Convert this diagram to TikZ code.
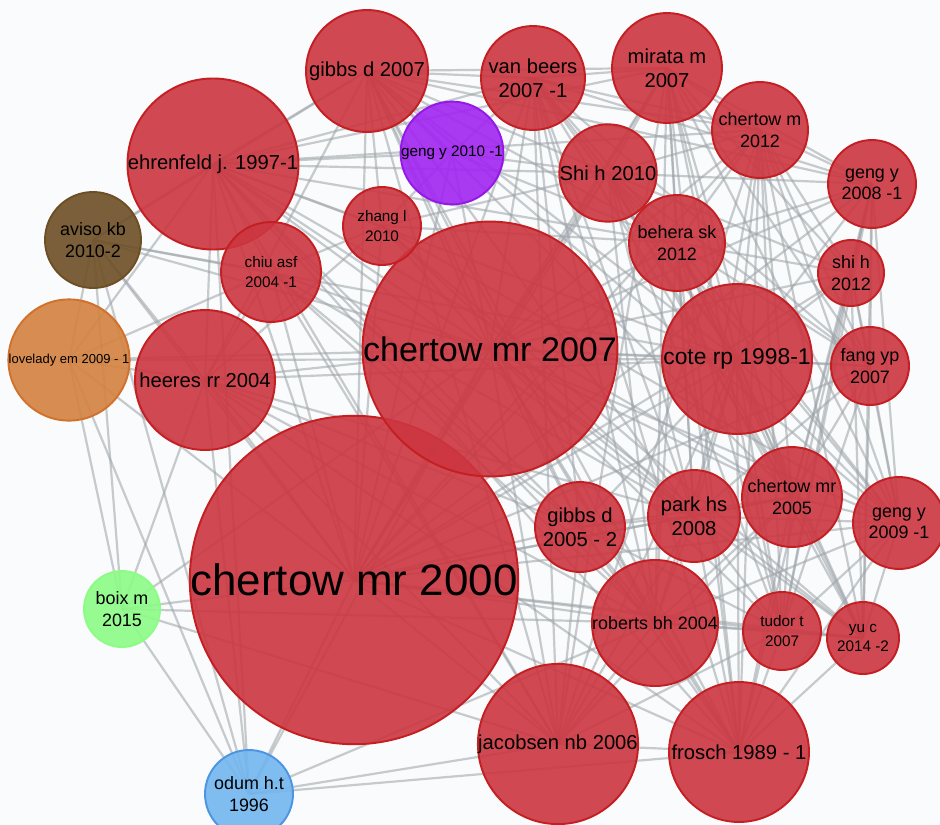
\documentclass[tikz,border=0pt]{standalone}
\usepackage{fontspec}
\setmainfont{Liberation Sans}
\usepackage{xcolor}
\usepackage{tikz}

\definecolor{paperred}{HTML}{CC3640}
\definecolor{edgered}{HTML}{C41F22}
\definecolor{linkgray}{HTML}{9CA2A8}
\definecolor{bgwhite}{HTML}{F9FBFC}
\definecolor{purplefill}{HTML}{A224F2}
\definecolor{purpleedge}{HTML}{9418E6}
\definecolor{brownfill}{HTML}{6E4F25}
\definecolor{orangefill}{HTML}{D4823F}
\definecolor{orangeedge}{HTML}{D0722C}
\definecolor{greenfill}{HTML}{8CFC86}
\definecolor{bluefill}{HTML}{72B6EF}
\definecolor{blueedge}{HTML}{4E94E4}

\pgfdeclarelayer{links}
\pgfsetlayers{links,main}

\tikzset{
    paper/.style={circle, draw=edgered, fill=paperred, fill opacity=0.9, text opacity=1,
        line width=1.1pt, inner sep=0pt, align=center, minimum size=#1*0.04cm},
    link/.style={draw=linkgray, line width=1.25pt, opacity=0.55},
    fhuge/.style={font=\fontsize{25}{30}\selectfont},
    flarge/.style={font=\fontsize{19.4}{23}\selectfont},
    fbig/.style={font=\fontsize{13}{16}\selectfont},
    fmed/.style={font=\fontsize{11.5}{13.8}\selectfont},
    fnorm/.style={font=\fontsize{10.2}{12.2}\selectfont},
    fsmall/.style={font=\fontsize{8.7}{11}\selectfont},
    ftiny/.style={font=\fontsize{7.4}{9}\selectfont},
}

\begin{document}
\begin{tikzpicture}[x=0.02cm, y=-0.02cm]
    \useasboundingbox (0,0) rectangle (940,825);

    % Papers (main cluster)
    \node[paper=164, fhuge] (c00) at (354,580) {chertow mr 2000};
    \node[paper=126, flarge] (c07) at (490,349) {chertow mr 2007};
    \node[paper=75, fbig] (co) at (737,359) {cote rp 1998-1};
    \node[paper=82, fmed] (eh) at (213,164) {ehrenfeld j. 1997-1};
    \node[paper=61, fmed] (g07) at (367,71) {gibbs d 2007};
    \node[paper=52, fmed] (vb) at (533,78) {van beers\\2007 -1};
    \node[paper=55, fmed] (mi) at (667,68) {mirata m\\2007};
    \node[paper=48, fnorm] (cm12) at (760,130) {chertow m\\2012};
    \node[paper=47, fmed] (sh10) at (608,173) {Shi h 2010};
    \node[paper=44, fnorm] (gy08) at (872,184) {geng y\\2008 -1};
    \node[paper=39, fsmall] (zl) at (382,226) {zhang l\\2010};
    \node[paper=50, fsmall] (ch04) at (271,272) {chiu asf\\2004 -1};
    \node[paper=48, fnorm] (be) at (677,243) {behera sk\\2012};
    \node[paper=33, fnorm] (sh12) at (851,273) {shi h\\2012};
    \node[paper=39, fnorm] (fa) at (870,366) {fang yp\\2007};
    \node[paper=70, fmed] (he) at (205,380) {heeres rr 2004};
    \node[paper=45, fmed] (gd05) at (580,527) {gibbs d\\2005 - 2};
    \node[paper=46, fmed] (pk) at (694,516) {park hs\\2008};
    \node[paper=50, fnorm] (c05) at (792,497) {chertow mr\\2005};
    \node[paper=46, fnorm] (gy09) at (899,523) {geng y\\2009 -1};
    \node[paper=63, fnorm] (rb) at (655,623) {roberts bh 2004};
    \node[paper=39, fsmall] (tu) at (782,631) {tudor t\\2007};
    \node[paper=36, fsmall] (yu) at (863,638) {yu c\\2014 -2};
    \node[paper=80, fmed] (ja) at (558,744) {jacobsen nb 2006};
    \node[paper=70, fmed] (fr) at (739,752) {frosch 1989 - 1};

    % Papers (other clusters)
    \node[paper=50, fill=purplefill, draw=purpleedge, fsmall] (gy10) at (452,153) {geng y 2010 -1};
    \node[paper=48, fill=brownfill, draw=brownfill, fnorm] (av) at (93,240) {aviso kb\\2010-2};
    \node[paper=58, fill=orangefill, draw=orangeedge, ftiny] (lo) at (69,360) {lovelady em 2009 - 1};
    \node[paper=38, fill=greenfill, draw=greenfill, fnorm] (bo) at (122,609) {boix m\\2015};
    \node[paper=44, fill=bluefill, draw=blueedge, fnorm] (od) at (249,794) {odum h.t\\1996};

    % Co-citation links
    \begin{pgfonlayer}{links}
        \fill[bgwhite] (0,0) rectangle (940,825);
        \foreach \a/\blist in {
            c00/{c07,co,eh,g07,vb,mi,cm12,sh10,gy08,zl,ch04,be,sh12,fa,he,gd05,pk,c05,gy09,rb,tu,yu,ja,fr,gy10,av,lo,bo,od},
            c07/{co,eh,g07,vb,mi,cm12,sh10,gy08,zl,ch04,be,sh12,fa,he,gd05,pk,c05,gy09,rb,tu,yu,ja,fr,gy10,av,lo,bo,od},
            co/{eh,g07,vb,mi,cm12,sh10,gy08,be,sh12,fa,he,gd05,pk,c05,gy09,rb,tu,yu,ja,fr,av,lo},
            eh/{g07,vb,mi,cm12,sh10,zl,ch04,be,he,gd05,pk,c05,rb,ja,fr,av,lo,od,gy10},
            g07/{vb,mi,cm12,sh10,gy08,gy10,zl,be,he,gd05,pk,c05,gy09,rb,ja,fr,av},
            vb/{mi,cm12,sh10,gy10,gy08,be,gd05,pk,c05,rb,ja,fr,fa},
            mi/{cm12,sh10,gy08,be,sh12,fa,pk,c05,gy09,rb,tu,ja,fr},
            cm12/{gy08,sh10,be,sh12,fa,pk,c05,gy09,yu,tu,fr,ja},
            sh10/{gy10,gy08,be,sh12,fa,zl,pk,c05,gy09,yu,tu,rb},
            gy08/{sh12,fa,be,gy09,yu,c05,tu,fr},
            zl/{gy10,ch04,be,he,pk,gy09,yu},
            ch04/{he,av,lo,pk,gd05,rb,ja},
            be/{sh12,fa,gy10,pk,c05,gy09,yu,tu,rb,fr},
            sh12/{fa,gy09,yu,c05,tu},
            fa/{gy09,yu,c05,pk,tu},
            he/{av,lo,bo,gd05,pk,rb,ja,fr,od},
            gd05/{pk,c05,rb,ja,fr,tu},
            pk/{c05,gy09,rb,tu,yu,ja,fr},
            c05/{gy09,rb,tu,yu,ja,fr},
            gy09/{yu,tu,rb,fr},
            rb/{tu,yu,ja,fr,od,bo},
            tu/{yu,ja,fr},
            yu/{fr},
            ja/{fr,od,bo},
            fr/{od},
            av/{lo,bo,od},
            lo/{bo,od},
            bo/{od}}
            \foreach \b in \blist
                \draw[link] (\a.center) -- (\b.center);
    \end{pgfonlayer}
\end{tikzpicture}
\end{document}
